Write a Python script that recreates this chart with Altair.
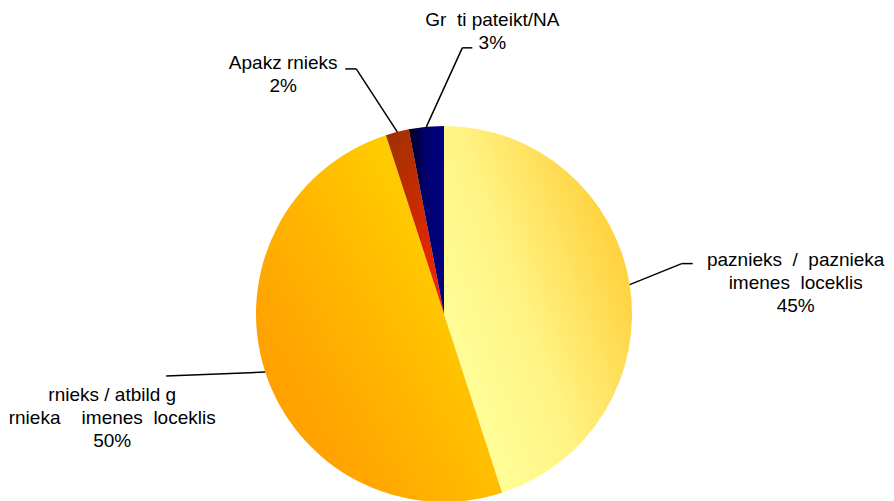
import altair as alt
import pandas as pd

NB = "\u00a0"

# ---- data ----
slice_names = [
    "paznieks / paznieka imenes loceklis",
    "rnieks / atbild g rnieka imenes loceklis",
    "Apakz rnieks",
    "Gr ti pateikt/NA",
]
shares = [45, 50, 2, 3]
label_names = [
    "paznieks" + NB + " /" + NB + " paznieka\nimenes" + NB + " loceklis",
    "rnieks / atbild g\nrnieka" + NB + " " + NB + " imenes" + NB + " loceklis",
    "Apakz rnieks",
    "Gr" + NB + " ti pateikt/NA",
]

# ---- layout (leader lines / label placement, pixels) ----
CX, CY, R = 436, 306, 188
elbow_dx = [52, -99, -41, 36]
elbow_dy = [-21, 4, -63, -79]
tail_dx = [11, 0, -11, 10]
text_dx = [103, -54, -62, 20]
text_dy = [2.5, 24.7, 0.3, -22]

# ---- styles ----
def grad(x1, y1, x2, y2, stops):
    return alt.LinearGradient(
        gradient="linear", x1=x1, y1=y1, x2=x2, y2=y2,
        stops=[alt.GradientStop(offset=o, color=c) for o, c in stops],
    )

fills = [
    grad(0.1, 0.75, 0.85, 0.22, [(0, "#FFFF99"), (0.45, "#FFF383"), (1, "#FFD23F")]),
    grad(0.2, 0.75, 0.75, 0.3, [(0, "#FFA200"), (1, "#FFCC00")]),
    grad(0, 0, 1, 1, [(0, "#993300"), (1, "#FF2200")]),
    grad(0, 0.5, 1, 0.5, [(0, "#000020"), (0.5, "#000070"), (1, "#000080")]),
]

df = pd.DataFrame({
    "name": slice_names,
    "value": shares,
    "order": list(range(len(shares))),
    "label": [f"{n}\n{v}%" for n, v in zip(label_names, shares)],
    "edx": elbow_dx,
    "edy": elbow_dy,
    "tdx": tail_dx,
    "ldx": text_dx,
    "ldy": text_dy,
})

base = (
    alt.Chart(df)
    .transform_window(cum="sum(value)", sort=[alt.SortField("order")], frame=[None, 0])
    .transform_calculate(start="datum.cum - datum.value")
    .transform_calculate(ang="2*PI*(datum.start + datum.value/2)/100")
    .transform_calculate(
        ex=f"{CX} + {R}*sin(datum.ang)",
        ey=f"{CY} - {R}*cos(datum.ang)",
    )
    .transform_calculate(bx="datum.ex + datum.edx", by="datum.ey + datum.edy")
    .transform_calculate(tx="datum.bx + datum.tdx")
    .transform_calculate(lx="datum.tx + datum.ldx", ly="datum.by + datum.ldy")
)

layers = []
for i, f in enumerate(fills):
    layers.append(
        base.mark_arc(radius=R, fill=f)
        .encode(
            theta=alt.Theta("start:Q", scale=alt.Scale(domain=[0, 100])),
            theta2="cum:Q",
            x=alt.value(CX),
            y=alt.value(CY),
        )
        .transform_filter(alt.datum.order == i)
    )

rule1 = base.mark_rule(color="#000000", strokeWidth=1.5).encode(
    x=alt.X("ex:Q", scale=None), y=alt.Y("ey:Q", scale=None),
    x2="bx:Q", y2="by:Q",
)
rule2 = base.mark_rule(color="#000000", strokeWidth=1.5).encode(
    x=alt.X("bx:Q", scale=None), y=alt.Y("by:Q", scale=None),
    x2="tx:Q", y2="by:Q",
)
text = base.mark_text(
    font="Liberation Sans", fontSize=19, lineBreak="\n", lineHeight=23,
    align="center", baseline="alphabetic", color="#000000",
).encode(
    x=alt.X("lx:Q", scale=None), y=alt.Y("ly:Q", scale=None), text="label:N",
)

chart = (
    alt.layer(*layers, rule1, rule2, text)
    .properties(width=878, height=493, autosize="none", padding=0)
    .configure_view(stroke=None)
)

chart.save("out.html", embed_options={"renderer": "svg", "actions": False})
